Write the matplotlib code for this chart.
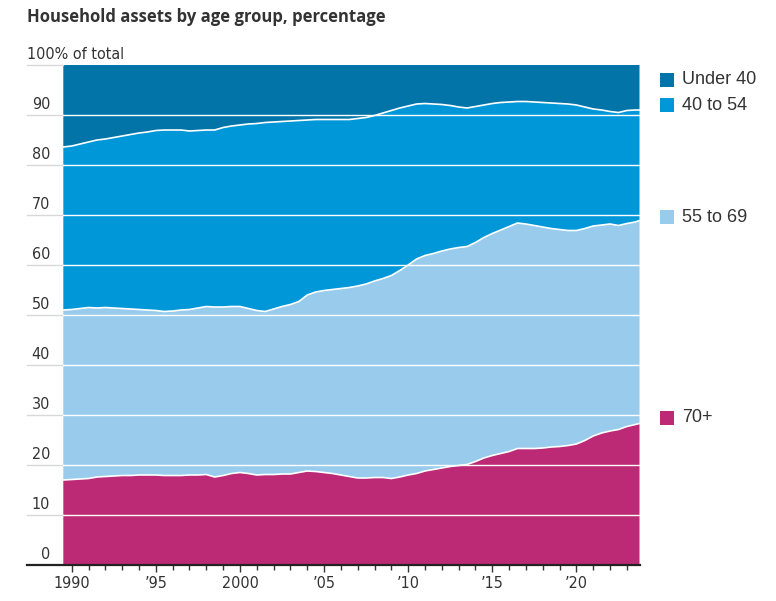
import numpy as np
import matplotlib
matplotlib.use("Agg")
import matplotlib.pyplot as plt
import matplotlib.transforms as mtransforms
from matplotlib.patches import Rectangle

# half-year points, 1989 Q3 to 2023 Q4
periods = np.append(np.arange(1989.5, 2024.0, 0.5), 2023.75)

# share of household assets, percent
age_70_plus = [
    17.0, 17.1, 17.2, 17.3, 17.6, 17.7, 17.8, 17.9, 17.9, 18.0,   # 1989.5-1994.0
    18.0, 18.0, 17.9, 17.9, 17.9, 18.0, 18.0, 18.1, 17.6, 17.9,   # 1994.5-1999.0
    18.3, 18.5, 18.3, 18.0, 18.1, 18.1, 18.2, 18.2, 18.5, 18.8,   # 1999.5-2004.0
    18.7, 18.5, 18.3, 18.0, 17.7, 17.4, 17.4, 17.5, 17.5, 17.3,   # 2004.5-2009.0
    17.6, 18.0, 18.3, 18.8, 19.1, 19.4, 19.7, 19.9, 20.1, 20.7,   # 2009.5-2014.0
    21.4, 21.9, 22.3, 22.7, 23.3, 23.3, 23.3, 23.4, 23.6, 23.7,   # 2014.5-2019.0
    23.9, 24.2, 24.9, 25.8, 26.4, 26.8, 27.1, 27.7, 28.1, 28.3,   # 2019.5-2023.75
]
age_55_69 = [
    34.0, 34.0, 34.1, 34.2, 33.8, 33.8, 33.6, 33.4, 33.3, 33.1,
    33.0, 32.9, 32.8, 32.9, 33.1, 33.1, 33.4, 33.6, 34.0, 33.7,
    33.4, 33.2, 33.0, 32.9, 32.6, 33.1, 33.5, 33.9, 34.2, 35.2,
    35.9, 36.4, 36.8, 37.3, 37.8, 38.4, 38.8, 39.3, 39.8, 40.6,
    41.3, 42.0, 42.9, 43.1, 43.2, 43.4, 43.5, 43.6, 43.6, 43.8,
    44.1, 44.4, 44.7, 45.0, 45.1, 44.9, 44.6, 44.2, 43.7, 43.4,
    43.0, 42.7, 42.4, 42.0, 41.6, 41.4, 40.8, 40.6, 40.5, 40.6,
]
age_40_54 = [
    32.6, 32.7, 32.9, 33.1, 33.6, 33.7, 34.1, 34.5, 34.9, 35.3,
    35.6, 36.0, 36.3, 36.2, 36.0, 35.7, 35.5, 35.3, 35.4, 35.9,
    36.1, 36.3, 36.9, 37.4, 37.8, 37.4, 37.0, 36.7, 36.2, 35.0,
    34.5, 34.2, 34.0, 33.8, 33.6, 33.5, 33.3, 33.1, 33.1, 33.0,
    32.5, 31.8, 31.0, 30.4, 29.9, 29.3, 28.7, 28.1, 27.7, 27.2,
    26.5, 26.0, 25.5, 24.9, 24.3, 24.5, 24.7, 24.9, 25.1, 25.2,
    25.3, 25.1, 24.3, 23.4, 23.0, 22.5, 22.6, 22.6, 22.4, 22.1,
]
under_40 = [
    16.4, 16.2, 15.8, 15.4, 15.0, 14.8, 14.5, 14.2, 13.9, 13.6,
    13.4, 13.1, 13.0, 13.0, 13.0, 13.2, 13.1, 13.0, 13.0, 12.5,
    12.2, 12.0, 11.8, 11.7, 11.5, 11.4, 11.3, 11.2, 11.1, 11.0,
    10.9, 10.9, 10.9, 10.9, 10.9, 10.7, 10.5, 10.1, 9.6, 9.1,
    8.6, 8.2, 7.8, 7.7, 7.8, 7.9, 8.1, 8.4, 8.6, 8.3,
    8.0, 7.7, 7.5, 7.4, 7.3, 7.3, 7.4, 7.5, 7.6, 7.7,
    7.8, 8.0, 8.4, 8.8, 9.0, 9.3, 9.5, 9.1, 9.0, 9.0,
]

groups = ["70+", "55 to 69", "40 to 54", "Under 40"]
colors = ["#bc2a76", "#98cbec", "#0097d9", "#0274a8"]
year_ticks = [1990, 1995, 2000, 2005, 2010, 2015, 2020]
year_labels = ["1990", "\u201995", "2000", "\u201905", "\u201910", "\u201915", "\u201920"]
y_ticks = [0, 10, 20, 30, 40, 50, 60, 70, 80, 90]

W, H = 776, 601
NARROW = dict(family="DejaVu Sans", stretch="condensed", weight="light")

fig = plt.figure(figsize=(W / 100, H / 100), dpi=100)
ax_l, ax_r, ax_t, ax_b = 63.3, 639.5, 65, 565
ax = fig.add_axes([ax_l / W, 1 - ax_b / H, (ax_r - ax_l) / W, (ax_b - ax_t) / H])

series = [age_70_plus, age_55_69, age_40_54, under_40]
ax.stackplot(periods, *series, colors=colors, linewidth=0, zorder=1)

# white boundary lines between the groups
tops = np.cumsum(np.array(series), axis=0)
for top in tops[:3]:
    ax.plot(periods, top, color="white", lw=1.2, zorder=4)

ax.set_xlim(1989.5, 2023.75)
ax.set_ylim(0, 100)
for s in ax.spines.values():
    s.set_visible(False)

# grid: white over the areas, light grey out to the labels
trans = mtransforms.blended_transform_factory(ax.transAxes, ax.transData)
x_out = (27 - ax_l) / (ax_r - ax_l)
for v in y_ticks[1:] + [100]:
    if v < 100:
        ax.axhline(v, color="white", lw=1, zorder=3)
    ax.plot([x_out, 0], [v, v], color="#d8d8d8", lw=1, transform=trans, clip_on=False)
ax.plot([x_out, 1], [0, 0], color="#222222", lw=1.6, transform=trans,
        clip_on=False, zorder=5)

x_lab = (50 - ax_l) / (ax_r - ax_l)
for v in y_ticks:
    ax.text(x_lab, v + 2.1, str(v), ha="right", va="center", transform=trans,
            fontsize=11.5, color="#333333", **NARROW)
ax.text(x_out, 102.1, "100% of total", ha="left", va="center", transform=trans,
        fontsize=11.5, color="#333333", **NARROW)

ax.set_yticks([])
ax.set_xticks(year_ticks)
ax.set_xticklabels(year_labels, fontsize=11.5, color="#333333", **NARROW)
ax.set_xticks(range(1990, 2024), minor=True)
ax.tick_params(axis="x", which="major", length=5, width=1, color="#333333", pad=3)
ax.tick_params(axis="x", which="minor", length=3.5, width=1, color="#333333")

fig.text(27 / W, 1 - 17 / H, "Household assets by age group, percentage",
         ha="left", va="center", fontsize=12, fontweight="bold", color="#333333",
         family=["Open Sans", "DejaVu Sans"])

# legend, placed beside each band
legend_y = {"Under 40": 80, "40 to 54": 105, "55 to 69": 217, "70+": 418}
for name, col in zip(groups, colors):
    yc = legend_y[name]
    fig.add_artist(Rectangle((660 / W, 1 - (yc + 7) / H), 13.5 / W, 14 / H,
                             transform=fig.transFigure, color=col, lw=0))
    fig.text(682 / W, 1 - yc / H, name, ha="left", va="center", fontsize=13,
             color="#333333", family=["Liberation Sans", "DejaVu Sans"])

fig.savefig("out.png", dpi=100)
